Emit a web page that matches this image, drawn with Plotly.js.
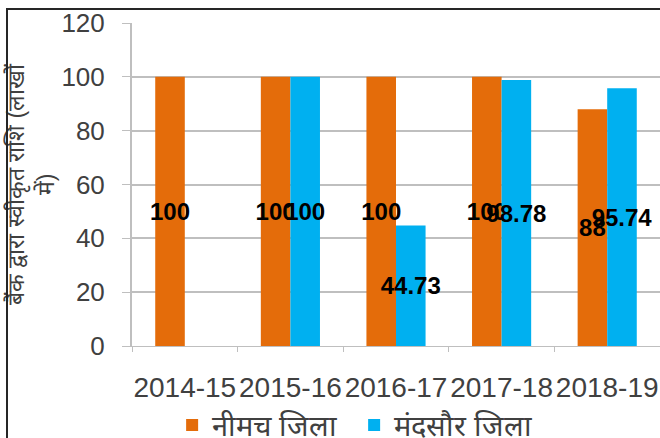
<!DOCTYPE html>
<html>
<head>
<meta charset="utf-8">
<script src="https://cdn.plot.ly/plotly-3.0.1.min.js"></script>
<style>
  html, body { margin: 0; padding: 0; overflow: hidden; background: #fff; }
  #wrap { position: relative; width: 660px; height: 438px; overflow: hidden; }
  #chart { position: absolute; left: 0; top: 0; width: 660px; height: 460px; }
  #frame { position: absolute; left: 6px; top: 8px; width: 700px; height: 428px;
           border-left: 2px solid #262626; border-top: 2px solid #262626;
           border-bottom: 1px solid #a6a6a6; pointer-events: none; }
</style>
</head>
<body>
<div id="wrap">
  <div id="chart"></div>
  <div id="frame"></div>
</div>
<script>
// Data
const categories = ["2014-15", "2015-16", "2016-17", "2017-18", "2018-19"];
const neemuchValues = [100, 100, 100, 100, 88];
const mandsaurValues = [null, 100, 44.73, 98.78, 95.74];
const seriesNames = ["नीमच जिला", "मंदसौर जिला"];
const yTitle = "बैंक द्वारा स्वीकृत राशि (लाखों<br>में)";
const yTickVals = [0, 20, 40, 60, 80, 100, 120];

const labelText = arr => arr.map(v => (v === null ? "" : String(v)));

const font = "Liberation Sans, Arial, sans-serif";

const traces = [
  {
    type: "bar",
    name: seriesNames[0],
    x: categories,
    y: neemuchValues,
    text: labelText(neemuchValues),
    textposition: "inside",
    insidetextanchor: "middle",
    constraintext: "none",
    textangle: 0,
    textfont: { family: font, size: 24, color: "#000000", weight: "bold" },
    marker: { color: "#E46C0A" },
    hoverinfo: "none"
  },
  {
    type: "bar",
    name: seriesNames[1],
    x: categories,
    y: mandsaurValues,
    text: labelText(mandsaurValues),
    textposition: "inside",
    insidetextanchor: "middle",
    constraintext: "none",
    textangle: 0,
    textfont: { family: font, size: 24, color: "#000000", weight: "bold" },
    marker: { color: "#00B0F0" },
    hoverinfo: "none"
  }
];

const layout = {
  width: 660,
  height: 460,
  margin: { l: 132, r: 0, t: 23, b: 114, pad: 0 },
  paper_bgcolor: "rgba(0,0,0,0)",
  plot_bgcolor: "rgba(0,0,0,0)",
  font: { family: font, color: "#404040" },
  barmode: "group",
  bargap: 0.44,
  bargroupgap: 0,
  showlegend: true,
  legend: {
    orientation: "h",
    x: 0.076,
    xanchor: "left",
    y: -0.245,
    yanchor: "middle",
    entrywidth: 137,
    entrywidthmode: "pixels",
    font: { size: 29, color: "#404040" },
    traceorder: "normal"
  },
  xaxis: {
    type: "category",
    tickangle: 0,
    tickson: "boundaries",
    ticks: "outside",
    ticklen: 5,
    tickcolor: "#bfbfbf",
    showline: true,
    linecolor: "#bfbfbf",
    linewidth: 1,
    showgrid: false,
    tickfont: { size: 28, color: "#404040" },
    ticklabelstandoff: 16,
    automargin: false,
    fixedrange: true
  },
  yaxis: {
    range: [0, 120],
    tickvals: yTickVals,
    ticks: "outside",
    ticklen: 8,
    tickcolor: "#bfbfbf",
    showline: true,
    linecolor: "#bfbfbf",
    linewidth: 2,
    showgrid: true,
    gridcolor: "#bfbfbf",
    gridwidth: 2,
    zeroline: false,
    tickfont: { size: 26, color: "#404040" },
    ticklabelstandoff: 12,
    automargin: false,
    title: {
      text: yTitle,
      font: { size: 23, color: "#404040" },
      standoff: 0
    },
    fixedrange: true
  }
};

Plotly.newPlot("chart", traces, layout, { displayModeBar: false, staticPlot: true });
</script>
</body>
</html>
